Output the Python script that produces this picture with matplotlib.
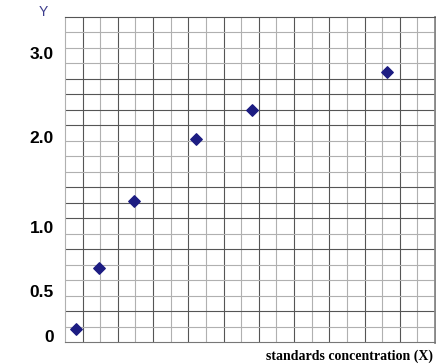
import numpy as np
import matplotlib
matplotlib.use('Agg')
import matplotlib.pyplot as plt

# standards (x in grid squares, y in absorbance units)
conc = [0.62, 1.93, 3.92, 7.44, 10.63, 18.3]
absorb = [0.08, 0.68, 1.29, 1.98, 2.32, 2.77]

yticks = [0, 0.5, 1.0, 2.0, 3.0]
ytick_labels = ['0', '0.5', '1.0', '2.0', '3.0']

# the printed y axis is not linear: value -> grid square
scale_vals = [-0.067, 0, 0.5, 1.0, 2.0, 3.0, 3.43]
scale_grid = [0, 0.39, 3.3, 7.43, 13.25, 18.67, 21]

def fwd(v):
    return np.interp(v, scale_vals, scale_grid)

def inv(g):
    return np.interp(g, scale_grid, scale_vals)

n_cells = 21
dark_rows = [2, 6, 8, 9, 10, 14, 15, 16, 17, 21]

fig = plt.figure(figsize=(4.36, 3.64), dpi=100)
ax = fig.add_axes([65 / 436, 22 / 364, 370 / 436, 325 / 364])
ax.set_yscale('function', functions=(fwd, inv))
ax.set_xlim(0, n_cells)
ax.set_ylim(scale_vals[0], scale_vals[-1])

# graph paper
for i in range(1, n_cells):
    c = '#555555' if i % 2 == 1 else '#b0b0b0'
    ax.axvline(i, color=c, lw=0.8, zorder=1)
for j in range(1, n_cells):
    c = '#555555' if j in dark_rows else '#b0b0b0'
    ax.hlines(j / n_cells, 0, 1, transform=ax.transAxes, color=c, lw=0.8, zorder=1)

ax.scatter(conc, absorb, marker='D', s=34, color='#1c1c82', zorder=3)

ax.set_yticks(yticks)
ax.set_yticklabels(ytick_labels, fontsize=12.5, fontweight='bold',
                   family='Liberation Sans')
ax.yaxis.set_minor_locator(matplotlib.ticker.NullLocator())
ax.tick_params(axis='y', length=0, pad=8)
ax.set_xticks([])

ax.spines['left'].set_color('#b0b0b0')
ax.spines['top'].set_color('#555555')
ax.spines['bottom'].set_color('#777777')
ax.spines['right'].set_color('#888888')
ax.spines['right'].set_linewidth(2)
for s in ax.spines.values():
    s.set_zorder(2)

fig.text(43 / 436, 1 - 12 / 364, 'Y', color='#3c3c8c', fontsize=10,
         ha='center', va='center', family='Liberation Sans')
fig.text(433 / 436, 1 - 356 / 364, 'standards concentration (X)',
         fontsize=10, fontweight='bold', family='Liberation Serif',
         ha='right', va='center')

fig.savefig('out.png', dpi=100)
